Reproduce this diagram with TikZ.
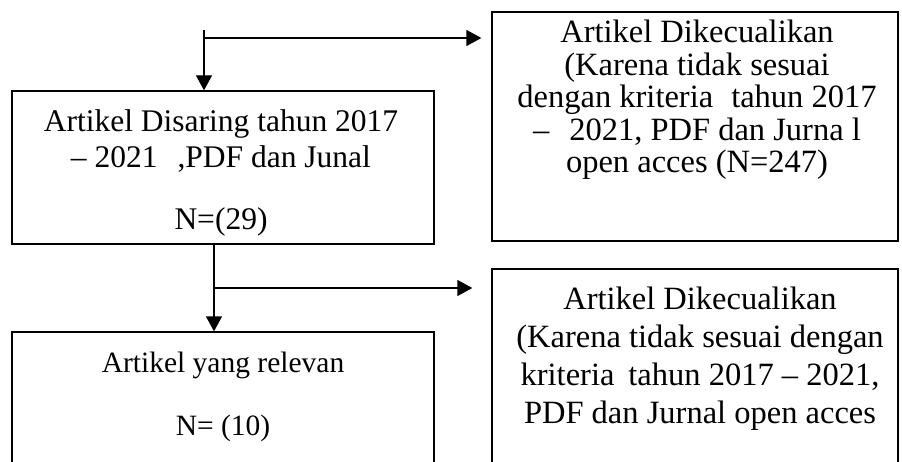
\documentclass[tikz,border=0pt]{standalone}
\usepackage{fontspec}
\setmainfont{Liberation Serif}
\usetikzlibrary{arrows.meta}
\begin{document}
\begin{tikzpicture}[x=1pt,y=-1pt,line width=1.3pt,
    kotak/.style={draw,rectangle,inner sep=0pt},
    teks/.style={anchor=base,align=center,inner sep=0pt},
    panah/.style={-{Triangle[length=15pt,width=16pt]}}]
        \useasboundingbox (0,0) rectangle (902,462);
        \clip (0,0) rectangle (902,462);
        \node[kotak,minimum width=422pt,minimum height=153pt](a)at(223,167.5){};
        \node[kotak,minimum width=406pt,minimum height=229pt](b)at(695,126.5){};
        \node[kotak,minimum width=422pt,minimum height=260pt](c)at(223,462){};
        \node[kotak,minimum width=406pt,minimum height=386pt](d)at(695,462){};
        \node[teks,font=\fontsize{31.5}{36}\selectfont](ta)at(221,230){Artikel Disaring tahun 2017\\ -- 2021\hspace{20pt},PDF dan Junal\\[26pt] N=(29)};
        \node[teks,font=\fontsize{32.5}{32.5}\selectfont](tb)at(697,173){Artikel Dikecualikan\\ (Karena tidak sesuai\\ dengan kriteria\hspace{18pt}tahun 2017\\ --\hspace{20pt}2021, PDF dan Jurna l\\ open acces (N=247)};
        \node[teks,font=\fontsize{29.5}{63}\selectfont](tc)at(223,435){Artikel yang relevan\\ N= (10)};
        \node[teks,font=\fontsize{32.5}{38}\selectfont](td)at(700,423){Artikel Dikecualikan\\ (Karena tidak sesuai dengan\\ kriteria\hspace{14pt}tahun 2017 -- 2021,\\ PDF dan Jurnal open acces};
        \coordinate (s1) at (204,30);
        \coordinate (j1) at (204,38);
        \coordinate (s2) at (214,244);
        \coordinate (j2) at (214,288);
        \draw[panah](s1)--(s1|-a.north);
        \draw[panah,shorten >=10pt](j1)--(j1-|b.west);
        \draw[panah](s2)--(s2|-c.north);
        \draw[panah,shorten >=19pt](j2)--(j2-|d.west);
    \end{tikzpicture}
\end{document}
